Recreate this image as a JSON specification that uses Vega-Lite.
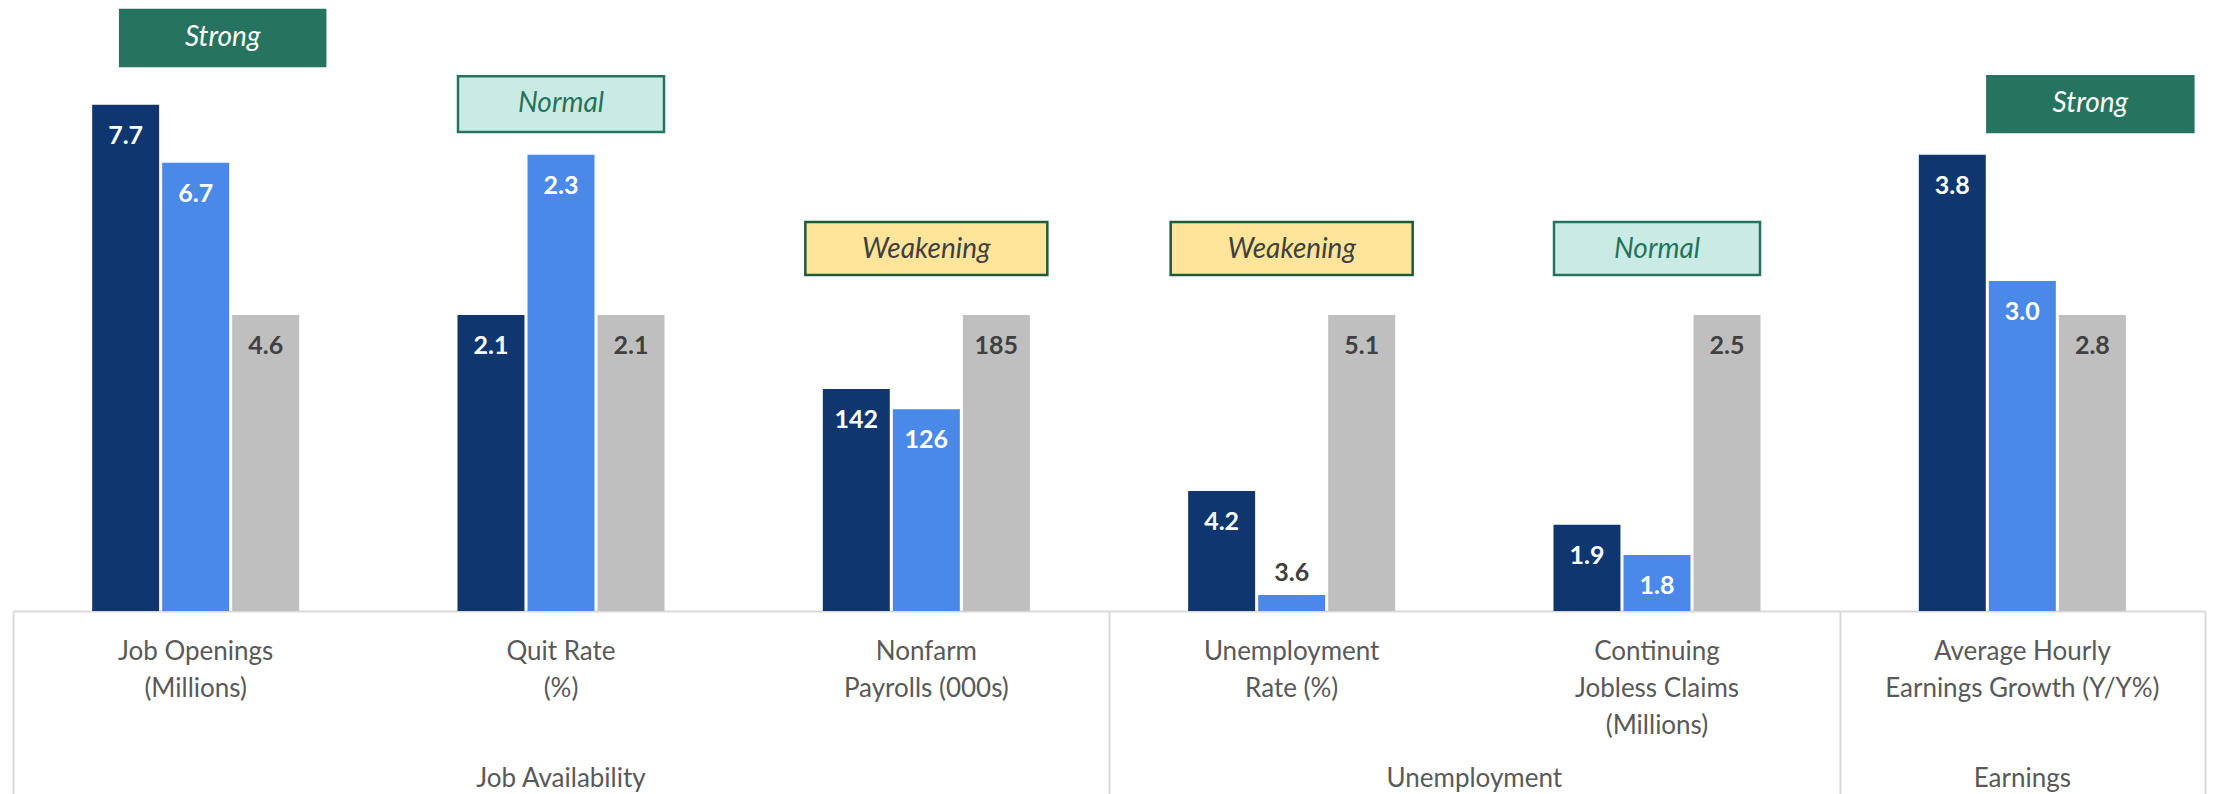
{
  "$schema": "https://vega.github.io/schema/vega-lite/v6.json",
  "width": 2192,
  "height": 611,
  "autosize": {"type": "none"},
  "padding": {"left": 13, "top": 0, "right": 14, "bottom": 183},
  "background": "white",
  "config": {"view": {"stroke": null}, "font": "Lato"},
  "datasets": {
    "bars": [
      {"cat": "Job Openings|(Millions)", "series": "Current", "label": "7.7", "score": 171.0},
      {"cat": "Job Openings|(Millions)", "series": "Prior", "label": "6.7", "score": 151.4},
      {"cat": "Job Openings|(Millions)", "series": "Normal", "label": "4.6", "score": 100},
      {"cat": "Quit Rate|(%)", "series": "Current", "label": "2.1", "score": 100},
      {"cat": "Quit Rate|(%)", "series": "Prior", "label": "2.3", "score": 154.1},
      {"cat": "Quit Rate|(%)", "series": "Normal", "label": "2.1", "score": 100},
      {"cat": "Nonfarm|Payrolls (000s)", "series": "Current", "label": "142", "score": 75.0},
      {"cat": "Nonfarm|Payrolls (000s)", "series": "Prior", "label": "126", "score": 68.2},
      {"cat": "Nonfarm|Payrolls (000s)", "series": "Normal", "label": "185", "score": 100},
      {"cat": "Unemployment|Rate (%)", "series": "Current", "label": "4.2", "score": 40.5},
      {"cat": "Unemployment|Rate (%)", "series": "Prior", "label": "3.6", "score": 5.4},
      {"cat": "Unemployment|Rate (%)", "series": "Normal", "label": "5.1", "score": 100},
      {"cat": "Continuing|Jobless Claims|(Millions)", "series": "Current", "label": "1.9", "score": 29.1},
      {"cat": "Continuing|Jobless Claims|(Millions)", "series": "Prior", "label": "1.8", "score": 18.9},
      {"cat": "Continuing|Jobless Claims|(Millions)", "series": "Normal", "label": "2.5", "score": 100},
      {"cat": "Average Hourly|Earnings Growth (Y/Y%)", "series": "Current", "label": "3.8", "score": 154.1},
      {"cat": "Average Hourly|Earnings Growth (Y/Y%)", "series": "Prior", "label": "3.0", "score": 111.5},
      {"cat": "Average Hourly|Earnings Growth (Y/Y%)", "series": "Normal", "label": "2.8", "score": 100}
    ],
    "badges": [
      {"cat": "Job Openings|(Millions)", "rating": "Strong", "top": 203.0, "bottom": 184.1},
      {"cat": "Quit Rate|(%)", "rating": "Normal", "top": 180.7, "bottom": 161.8},
      {"cat": "Nonfarm|Payrolls (000s)", "rating": "Weakening", "top": 131.4, "bottom": 113.5},
      {"cat": "Unemployment|Rate (%)", "rating": "Weakening", "top": 131.4, "bottom": 113.5},
      {"cat": "Continuing|Jobless Claims|(Millions)", "rating": "Normal", "top": 131.4, "bottom": 113.5},
      {"cat": "Average Hourly|Earnings Growth (Y/Y%)", "rating": "Strong", "top": 180.7, "bottom": 161.8}
    ]
  },
  "layer": [
    {
      "data": {"name": "bars"},
      "mark": {"type": "bar"},
      "encoding": {
        "x": {
          "field": "cat", "type": "nominal",
          "sort": ["Job Openings|(Millions)", "Quit Rate|(%)", "Nonfarm|Payrolls (000s)", "Unemployment|Rate (%)", "Continuing|Jobless Claims|(Millions)", "Average Hourly|Earnings Growth (Y/Y%)"],
          "scale": {"paddingInner": 0.4333, "paddingOuter": 0.21665},
          "axis": {
            "orient": "bottom", "title": null, "grid": false,
            "labelExpr": "split(datum.label, '|')",
            "labelFont": "Lato", "labelFontSize": 26, "labelColor": "#595959",
            "labelLineHeight": 37, "labelPadding": 27, "labelBaseline": "top",
            "labelAngle": 0, "labelLimit": 0, "labelOverlap": false,
            "ticks": false, "domain": true, "domainColor": "#D9D9D9", "domainWidth": 2
          }
        },
        "xOffset": {
          "field": "series", "type": "nominal", "sort": ["Current", "Prior", "Normal"],
          "scale": {"paddingInner": 0.0435, "paddingOuter": 0}
        },
        "y": {"field": "score", "type": "quantitative", "scale": {"domain": [0, 206.42], "nice": false, "zero": true}, "axis": null},
        "color": {
          "field": "series", "type": "nominal",
          "scale": {"domain": ["Current", "Prior", "Normal"], "range": ["#103670", "#4A89E8", "#BFBFBF"]},
          "legend": null
        }
      }
    },
    {
      "data": {"name": "bars"},
      "transform": [{"filter": "datum.score >= 15"}],
      "mark": {"type": "text", "font": "Lato", "fontWeight": "bold", "fontSize": 25, "baseline": "middle", "align": "center", "dy": 31},
      "encoding": {
        "x": {
          "field": "cat", "type": "nominal",
          "sort": ["Job Openings|(Millions)", "Quit Rate|(%)", "Nonfarm|Payrolls (000s)", "Unemployment|Rate (%)", "Continuing|Jobless Claims|(Millions)", "Average Hourly|Earnings Growth (Y/Y%)"],
          "axis": {
            "orient": "bottom", "title": null, "grid": false, "domain": false, "labels": false,
            "values": ["Job Openings|(Millions)", "Unemployment|Rate (%)", "Average Hourly|Earnings Growth (Y/Y%)"],
            "bandPosition": 0, "tickOffset": -79.15,
            "ticks": true, "tickSize": 183, "tickColor": "#D9D9D9", "tickWidth": 2
          }
        },
        "xOffset": {"field": "series", "type": "nominal", "sort": ["Current", "Prior", "Normal"]},
        "y": {"field": "score", "type": "quantitative", "axis": null},
        "text": {"field": "label", "type": "nominal"},
        "color": {"condition": {"test": "datum.series === 'Normal'", "value": "#404040"}, "value": "#FFFFFF"}
      }
    },
    {
      "data": {"name": "bars"},
      "transform": [{"filter": "datum.score < 15"}],
      "mark": {"type": "text", "font": "Lato", "fontWeight": "bold", "fontSize": 25, "baseline": "middle", "align": "center", "dy": -22, "color": "#404040"},
      "encoding": {
        "x": {
          "field": "cat", "type": "nominal",
          "sort": ["Job Openings|(Millions)", "Quit Rate|(%)", "Nonfarm|Payrolls (000s)", "Unemployment|Rate (%)", "Continuing|Jobless Claims|(Millions)", "Average Hourly|Earnings Growth (Y/Y%)"],
          "axis": {
            "orient": "bottom", "title": null, "grid": false, "domain": false, "labels": false,
            "values": ["Average Hourly|Earnings Growth (Y/Y%)"],
            "bandPosition": 1, "tickOffset": 79.15,
            "ticks": true, "tickSize": 183, "tickColor": "#D9D9D9", "tickWidth": 2
          }
        },
        "xOffset": {"field": "series", "type": "nominal", "sort": ["Current", "Prior", "Normal"]},
        "y": {"field": "score", "type": "quantitative", "axis": null},
        "text": {"field": "label", "type": "nominal"}
      }
    },
    {
      "data": {"name": "badges"},
      "transform": [{"filter": "datum.cat !== 'Job Openings|(Millions)' && datum.cat !== 'Average Hourly|Earnings Growth (Y/Y%)'"}],
      "mark": {"type": "bar", "strokeWidth": 2.5},
      "encoding": {
        "x": {
          "field": "cat", "type": "nominal",
          "sort": ["Job Openings|(Millions)", "Quit Rate|(%)", "Nonfarm|Payrolls (000s)", "Unemployment|Rate (%)", "Continuing|Jobless Claims|(Millions)", "Average Hourly|Earnings Growth (Y/Y%)"],
          "axis": {
            "orient": "bottom", "title": null, "grid": false, "domain": false, "ticks": false,
            "values": ["Quit Rate|(%)", "Average Hourly|Earnings Growth (Y/Y%)"],
            "bandPosition": 0.5,
            "labelExpr": "datum.value === 'Quit Rate|(%)' ? 'Job Availability' : 'Earnings'",
            "labelFont": "Lato", "labelFontSize": 26, "labelColor": "#595959",
            "labelPadding": 167, "labelBaseline": "middle", "labelAngle": 0, "labelLimit": 0, "labelOverlap": false
          }
        },
        "y": {"field": "top", "type": "quantitative", "axis": null},
        "y2": {"field": "bottom"},
        "fill": {"condition": [{"test": "datum.rating === 'Strong'", "value": "#267360"}, {"test": "datum.rating === 'Normal'", "value": "#C9EBE4"}], "value": "#FFE599"},
        "stroke": {"condition": {"test": "datum.rating === 'Weakening'", "value": "#1E5A3C"}, "value": "#267360"},
        "size": {"condition": {"test": "datum.rating === 'Weakening'", "value": 242}, "value": 206}
      }
    },
    {
      "data": {"name": "badges"},
      "transform": [{"filter": "datum.cat !== 'Job Openings|(Millions)' && datum.cat !== 'Average Hourly|Earnings Growth (Y/Y%)'"}],
      "mark": {"type": "text", "font": "Lato", "fontStyle": "italic", "fontSize": 28, "baseline": "middle", "align": "center", "dy": 28},
      "encoding": {
        "x": {
          "field": "cat", "type": "nominal",
          "sort": ["Job Openings|(Millions)", "Quit Rate|(%)", "Nonfarm|Payrolls (000s)", "Unemployment|Rate (%)", "Continuing|Jobless Claims|(Millions)", "Average Hourly|Earnings Growth (Y/Y%)"],
          "axis": {
            "orient": "bottom", "title": null, "grid": false, "domain": false, "ticks": false,
            "values": ["Unemployment|Rate (%)"],
            "bandPosition": 0.5, "labelOffset": 182.67,
            "labelExpr": "'Unemployment'",
            "labelFont": "Lato", "labelFontSize": 26, "labelColor": "#595959",
            "labelPadding": 167, "labelBaseline": "middle", "labelAngle": 0, "labelLimit": 0, "labelOverlap": false
          }
        },
        "y": {"field": "top", "type": "quantitative", "axis": null},
        "text": {"field": "rating", "type": "nominal"},
        "color": {"condition": [{"test": "datum.rating === 'Weakening'", "value": "#404040"}], "value": "#267360"}
      }
    },
    {
      "data": {"name": "badges"},
      "transform": [{"filter": "datum.cat === 'Job Openings|(Millions)'"}],
      "mark": {"type": "bar", "xOffset": 27, "fill": "#267360", "stroke": "#267360", "strokeWidth": 2.5, "size": 205},
      "encoding": {
        "x": {"field": "cat", "type": "nominal", "sort": ["Job Openings|(Millions)", "Quit Rate|(%)", "Nonfarm|Payrolls (000s)", "Unemployment|Rate (%)", "Continuing|Jobless Claims|(Millions)", "Average Hourly|Earnings Growth (Y/Y%)"], "axis": null},
        "y": {"field": "top", "type": "quantitative", "axis": null},
        "y2": {"field": "bottom"}
      }
    },
    {
      "data": {"name": "badges"},
      "transform": [{"filter": "datum.cat === 'Job Openings|(Millions)'"}],
      "mark": {"type": "text", "xOffset": 27, "font": "Lato", "fontStyle": "italic", "fontSize": 28, "baseline": "middle", "align": "center", "dy": 28, "color": "#FFFFFF"},
      "encoding": {
        "x": {"field": "cat", "type": "nominal", "sort": ["Job Openings|(Millions)", "Quit Rate|(%)", "Nonfarm|Payrolls (000s)", "Unemployment|Rate (%)", "Continuing|Jobless Claims|(Millions)", "Average Hourly|Earnings Growth (Y/Y%)"], "axis": null},
        "y": {"field": "top", "type": "quantitative", "axis": null},
        "text": {"field": "rating", "type": "nominal"}
      }
    },
    {
      "data": {"name": "badges"},
      "transform": [{"filter": "datum.cat === 'Average Hourly|Earnings Growth (Y/Y%)'"}],
      "mark": {"type": "bar", "xOffset": 68, "fill": "#267360", "stroke": "#267360", "strokeWidth": 2.5, "size": 206},
      "encoding": {
        "x": {"field": "cat", "type": "nominal", "sort": ["Job Openings|(Millions)", "Quit Rate|(%)", "Nonfarm|Payrolls (000s)", "Unemployment|Rate (%)", "Continuing|Jobless Claims|(Millions)", "Average Hourly|Earnings Growth (Y/Y%)"], "axis": null},
        "y": {"field": "top", "type": "quantitative", "axis": null},
        "y2": {"field": "bottom"}
      }
    },
    {
      "data": {"name": "badges"},
      "transform": [{"filter": "datum.cat === 'Average Hourly|Earnings Growth (Y/Y%)'"}],
      "mark": {"type": "text", "xOffset": 68, "font": "Lato", "fontStyle": "italic", "fontSize": 28, "baseline": "middle", "align": "center", "dy": 28, "color": "#FFFFFF"},
      "encoding": {
        "x": {"field": "cat", "type": "nominal", "sort": ["Job Openings|(Millions)", "Quit Rate|(%)", "Nonfarm|Payrolls (000s)", "Unemployment|Rate (%)", "Continuing|Jobless Claims|(Millions)", "Average Hourly|Earnings Growth (Y/Y%)"], "axis": null},
        "y": {"field": "top", "type": "quantitative", "axis": null},
        "text": {"field": "rating", "type": "nominal"}
      }
    }
  ],
  "resolve": {"axis": {"x": "independent"}}
}
